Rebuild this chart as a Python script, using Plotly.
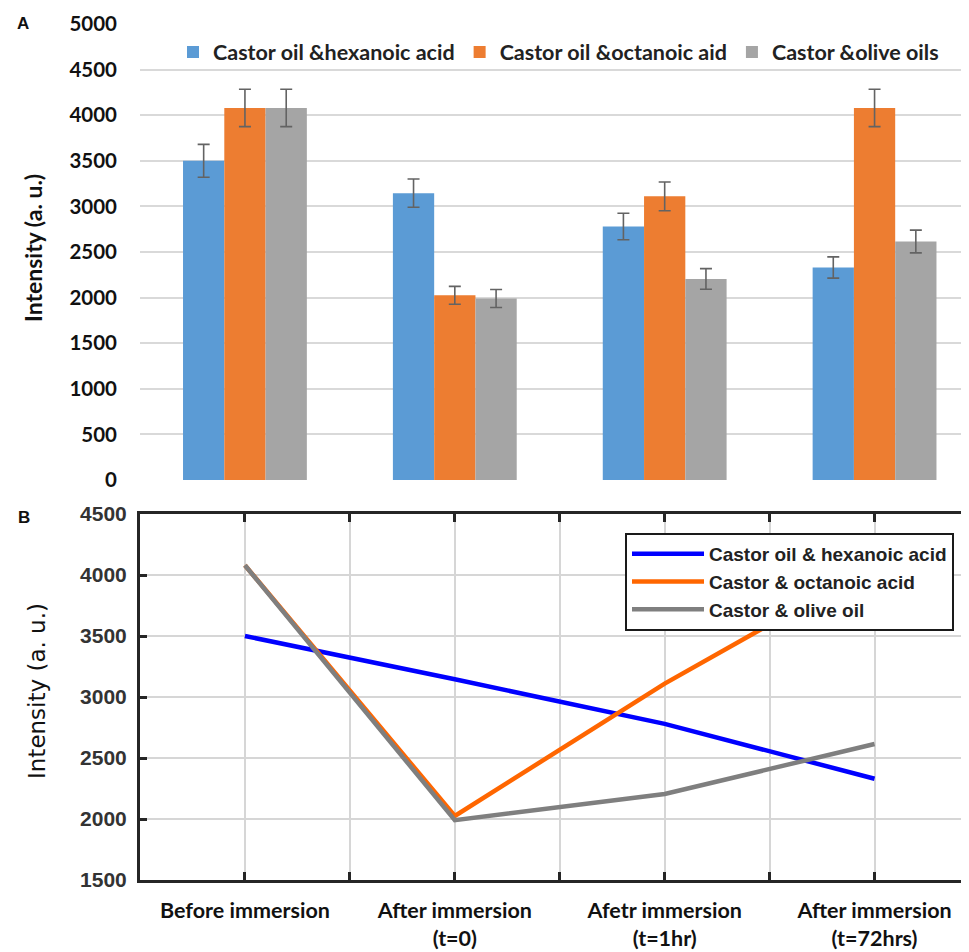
import plotly.graph_objects as go

# ---------------- data ----------------
categories = ["Before immersion", "After immersion<br>(t=0)",
              "Afetr immersion<br>(t=1hr)", "After immersion<br>(t=72hrs)"]
x_pos = [1, 2, 3, 4]

bar_names = ["Castor oil &hexanoic acid", "Castor oil &octanoic aid", "Castor &olive oils"]
line_names = ["Castor oil & hexanoic acid", "Castor & octanoic acid", "Castor & olive oil"]

hexanoic = [3500, 3145, 2780, 2330]
octanoic = [4080, 2025, 3110, 4080]
olive = [4080, 1990, 2205, 2615]

hexanoic_err = [180, 155, 145, 117]
octanoic_err = [205, 98, 157, 205]
olive_err = [205, 99, 113, 125]

yA_ticks = [0, 500, 1000, 1500, 2000, 2500, 3000, 3500, 4000, 4500, 5000]
yB_ticks = [1500, 2000, 2500, 3000, 3500, 4000, 4500]
xB_grid = [0.5, 1, 1.5, 2, 2.5, 3, 3.5, 4]

bar_colors = ["#5B9BD5", "#ED7D31", "#A5A5A5"]
line_colors = ["#0000FF", "#FF6600", "#7F7F7F"]

# ---------------- figure ----------------
fig = go.Figure()

series = [hexanoic, octanoic, olive]
errs = [hexanoic_err, octanoic_err, olive_err]

for name, vals, err, col in zip(bar_names, series, errs, bar_colors):
    fig.add_trace(go.Bar(
        x=x_pos, y=vals, name=name, marker=dict(color=col, line=dict(width=0)),
        error_y=dict(type="data", array=err, color="#636363", thickness=1.6, width=6),
        xaxis="x", yaxis="y", legend="legend",
    ))

for name, vals, col in zip(line_names, series, line_colors):
    fig.add_trace(go.Scatter(
        x=x_pos, y=vals, name=name, mode="lines",
        line=dict(color=col, width=4.5),
        xaxis="x2", yaxis="y2", legend="legend2",
    ))

OFF = 8  # page body margin
W, H = 969 - OFF, 952 - OFF
ml, mr, mt, mb = 140 - OFF, 0, 24 - OFF, 72
ph = H - mt - mb
pw = W - ml - mr

def py(screen_y):
    return (H - mb - (screen_y - OFF)) / ph

def px(screen_x):
    return ((screen_x - OFF) - ml) / pw

fig.update_layout(
    width=W, height=H,
    margin=dict(l=ml, r=mr, t=mt, b=mb),
    paper_bgcolor="white", plot_bgcolor="white",
    barmode="group", bargap=0.41, bargroupgap=0,
    xaxis=dict(domain=[0, 1], range=[0.5, 4.45], showticklabels=False,
               showgrid=False, zeroline=False, showline=False, ticks=""),
    yaxis=dict(domain=[py(480), 1], range=[0, 5000], tickvals=yA_ticks,
               showgrid=True, gridcolor="#D9D9D9", gridwidth=1.5,
               zeroline=False, showline=False, ticks="",
               ticklabelstandoff=22,
               tickfont=dict(family="Lato", size=20.5, color="#111111", weight="bold")),
    xaxis2=dict(domain=[0, 1], range=[0.5, 4.45], anchor="y2",
                tickvals=xB_grid,
                ticktext=["", categories[0], "", categories[1], "", categories[2], "", categories[3]],
                showgrid=True, gridcolor="#D6D6D6", gridwidth=1.5,
                zeroline=False, showline=True, linecolor="#262626", linewidth=3,
                mirror="ticks", ticks="inside", ticklen=8, tickwidth=3, tickcolor="#262626",
                ticklabelstandoff=9,
                tickfont=dict(family="Lato", size=21.5, color="#111111", weight="bold")),
    yaxis2=dict(domain=[0, py(514)], range=[1500, 4500], anchor="x2",
                tickvals=yB_ticks,
                showgrid=True, gridcolor="#D6D6D6", gridwidth=1.5,
                zeroline=False, showline=True, linecolor="#262626", linewidth=3,
                ticks="inside", ticklen=7, tickwidth=3, tickcolor="#262626",
                ticklabelstandoff=6,
                tickfont=dict(family="Liberation Sans", size=21, color="#333333", weight="bold")),
    legend=dict(orientation="h", x=px(173), y=py(52), xanchor="left", yanchor="middle",
                bgcolor="rgba(0,0,0,0)", borderwidth=0,
                font=dict(family="Lato", size=21.5, color="#222222", weight="bold")),
    legend2=dict(orientation="v", x=px(625), y=py(533), xanchor="left", yanchor="top",
                 bgcolor="white", bordercolor="#1a1a1a", borderwidth=2,
                 tracegroupgap=0, itemwidth=72,
                 font=dict(family="Liberation Sans", size=19, color="#222222", weight="bold")),
    annotations=[
        dict(text="A", x=px(23), y=py(23), xref="paper", yref="paper", showarrow=False,
             xanchor="center", yanchor="middle",
             font=dict(family="Liberation Sans", size=17, color="#111111", weight="bold")),
        dict(text="B", x=px(24), y=py(518), xref="paper", yref="paper", showarrow=False,
             xanchor="center", yanchor="middle",
             font=dict(family="Liberation Sans", size=17, color="#111111", weight="bold")),
        dict(text="Intensity (a. u.)", x=px(33), y=py(248), xref="paper", yref="paper",
             showarrow=False, textangle=-90, xanchor="center", yanchor="middle",
             font=dict(family="Lato", size=23, color="#111111", weight="bold")),
        dict(text="Intensity (a. u.)", x=px(37), y=py(691), xref="paper", yref="paper",
             showarrow=False, textangle=-90, xanchor="center", yanchor="middle",
             font=dict(family="DejaVu Sans", size=23, color="#111111")),
    ],
)

fig.write_html("out.html")
